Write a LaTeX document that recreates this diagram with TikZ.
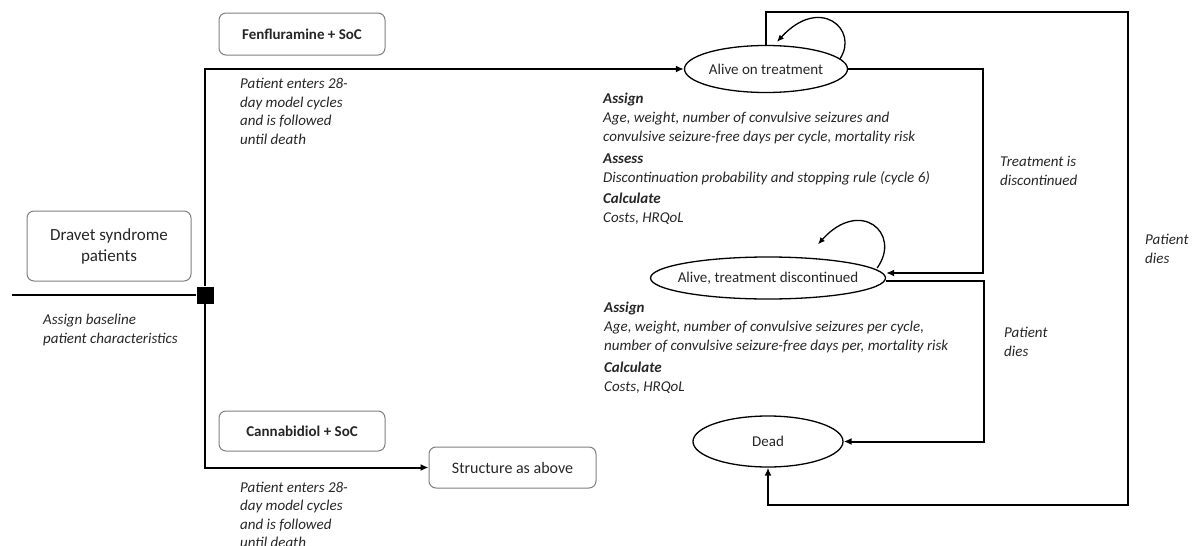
\documentclass[tikz,border=0pt]{standalone}
\usepackage{fontspec}
\setmainfont{Carlito}
\usetikzlibrary{shapes.geometric,arrows.meta,calc}
\definecolor{ink}{HTML}{262626}
\definecolor{boxline}{HTML}{7F7F7F}

\begin{document}
\begin{tikzpicture}[x=1pt,y=-1pt,
  font=\fontsize{15}{19}\selectfont, text=ink,
  roundbox/.style={draw=boxline,line width=1pt,rounded corners=7pt,inner sep=0pt,align=center},
  state/.style={ellipse,draw=black,line width=1.3pt,inner sep=0pt},
  flow/.style={draw=black,line width=2pt,-{Latex[length=8pt,width=7pt]}},
  selfloop/.style={draw=black,line width=1.3pt,-{Latex[length=7pt,width=6pt]}},
  note/.style={anchor=base west,inner sep=0pt,align=left,font=\fontsize{15}{18.5}\selectfont\itshape},
  infoblock/.style={anchor=base west,inner sep=0pt,align=left,font=\fontsize{15}{19}\selectfont\itshape},
]
\useasboundingbox (0,0) rectangle (1195,546);

% boxes on the left
\node[roundbox,minimum width=164pt,minimum height=70pt,font=\fontsize{17}{21}\selectfont] (dravet) at (109,246) {Dravet syndrome\\patients};
\node[roundbox,minimum width=166pt,minimum height=42pt,font=\fontsize{15}{19}\selectfont\bfseries] (fen) at (302,34) {Fenfluramine + SoC};
\node[roundbox,minimum width=166pt,minimum height=40pt,font=\fontsize{15}{19}\selectfont\bfseries] (cbd) at (302,431) {Cannabidiol + SoC};
\node[roundbox,minimum width=167pt,minimum height=41pt,font=\fontsize{16}{19}\selectfont] (same) at (512.5,467.5) {Structure as above};

% decision node
\node[fill=black,minimum size=17pt,inner sep=0pt] (hub) at (205,295) {};
\coordinate (entry) at (12,295);

% health states
\node[state,minimum width=163pt,minimum height=47pt] (alive) at (766,69) {\makebox[0pt]{Alive on treatment}};
\node[state,minimum width=235pt,minimum height=42pt] (disc) at (768,278) {\makebox[0pt]{Alive, treatment discontinued}};
\node[state,minimum width=150pt,minimum height=51pt] (dead) at (768,441.5) {\makebox[0pt]{Dead}};

% corner points of the transition lines
\coordinate (tr) at (983,69);
\coordinate (dr) at (984,281);
\coordinate (ne) at (1128,12);
\coordinate (se) at (1128,505);

% arms of the decision tree
\draw[line width=1.3pt] (entry) -- (hub.west);
\draw[flow] (hub.north) |- (alive.west);
\draw[flow] (hub.south) |- (same.west);

% transitions
\draw[flow] (alive.east) -- (tr) |- ([yshift=5pt]disc.east);
\draw[flow] ([yshift=-3pt]disc.east) -- (dr) |- (dead.east);
\draw[flow] (alive.north) |- (ne) -- (se) -| (dead.south);

% staying in the same state
\draw[selfloop] (alive.8) .. controls +(19,-29) and +(43,-47) .. ([shift={(11,-3)}]alive.north);
\draw[selfloop] ([shift={(-9,-10)}]disc.east) .. controls +(25,-35) and +(42,-47) .. ([shift={(50,-12)}]disc.north);

% notes (placed by the baseline of their last line)
\node[note] (fennote) at (240,144) {Patient enters 28-\\day model cycles\\and is followed\\until death};
\node[note] (cbdnote) at (240,547.5) {Patient enters 28-\\day model cycles\\and is followed\\until death};
\node[note] (basenote) at (43,343) {Assign baseline\\patient characteristics};
\node[note] (stopnote) at (1000,185) {Treatment is\\discontinued};
\node[note] (dienote) at (1004,356) {Patient\\dies};
\node[note] (dienote2) at (1145,263) {Patient\\dies};

\node[infoblock] (info1) at (603,222) {\textbf{Assign}\\Age, weight, number of convulsive seizures and\\convulsive seizure-free days per cycle, mortality risk\\[3pt]\textbf{Assess}\\Discontinuation probability and stopping rule (cycle 6)\\[2pt]\textbf{Calculate}\\Costs, HRQoL};
\node[infoblock] (info2) at (604,391) {\textbf{Assign}\\Age, weight, number of convulsive seizures per cycle,\\number of convulsive seizure-free days per, mortality risk\\[3pt]\textbf{Calculate}\\Costs, HRQoL};
\end{tikzpicture}
\end{document}
